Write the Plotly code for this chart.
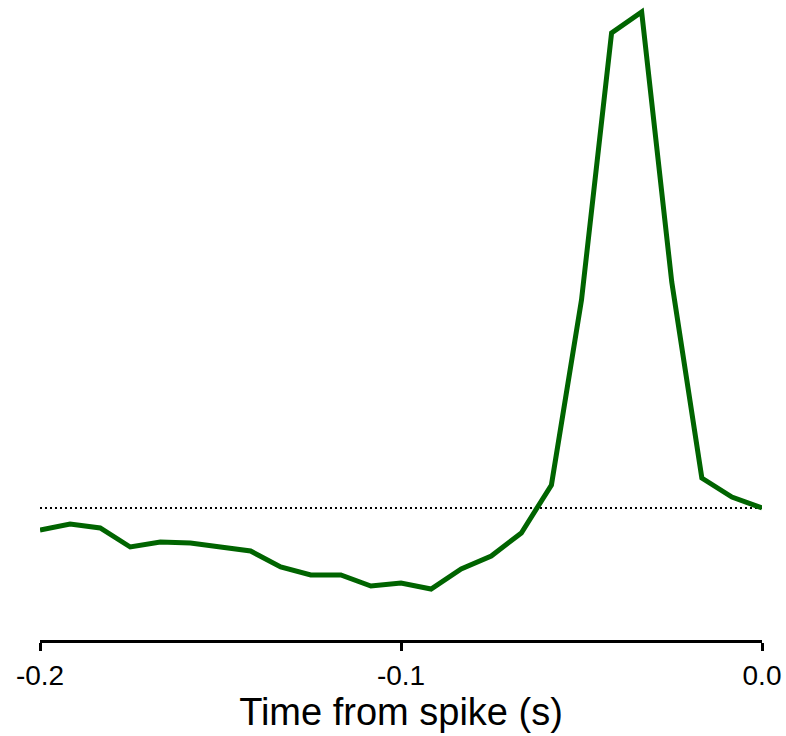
import plotly.graph_objects as go

# Time bins (s) from -0.2 to 0.0 in 1/120 s steps
n_bins = 25
time_s = [-0.2 + i * (0.2 / 24) for i in range(n_bins)]
# Relative value (baseline = 1.0)
values = [0.978, 0.984, 0.980, 0.961, 0.966, 0.965, 0.961, 0.957, 0.941, 0.933,
          0.933, 0.922, 0.925, 0.919, 0.939, 0.952, 0.975, 1.023, 1.208, 1.475,
          1.496, 1.226, 1.030, 1.011, 1.000]
baseline_x = [-0.2, 0.0]
baseline_y = [1.0, 1.0]
tick_vals = [-0.2, -0.1, 0.0]
tick_text = ["-0.2", "-0.1", "0.0"]

fig = go.Figure()
fig.add_trace(go.Scatter(x=baseline_x, y=baseline_y, mode="lines",
                         line=dict(color="black", width=2, dash="2px,3px"),
                         hoverinfo="skip", showlegend=False))
fig.add_trace(go.Scatter(x=time_s, y=values, mode="lines",
                         line=dict(color="#006400", width=5),
                         showlegend=False))

fig.update_layout(
    width=786, height=736,
    margin=dict(l=40, r=24, t=0, b=96),
    paper_bgcolor="white", plot_bgcolor="white",
    font=dict(family="Liberation Sans, Arial, sans-serif", color="black"),
    xaxis=dict(range=[-0.2, 0.0], tickvals=tick_vals, ticktext=tick_text,
               showgrid=False, zeroline=False, showline=True, linecolor="black",
               linewidth=3, ticks="outside", ticklen=8, tickwidth=3,
               tickcolor="black", tickfont=dict(size=28),
               title=dict(text="Time from spike (s)", font=dict(size=38), standoff=6)),
    yaxis=dict(range=[0.868, 1.508], visible=False, showgrid=False, zeroline=False),
)

fig.write_html("out.html")
